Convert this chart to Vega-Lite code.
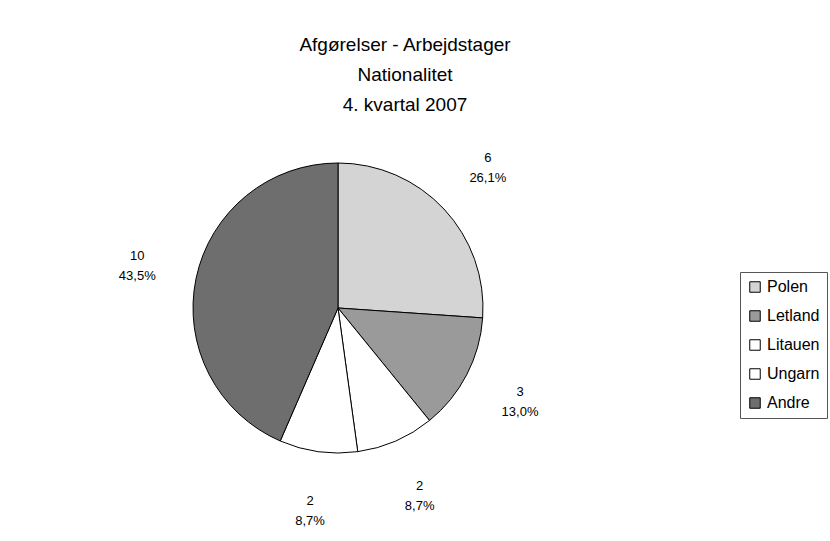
{
  "$schema": "https://vega.github.io/schema/vega-lite/v6.json",
  "autosize": "none",
  "padding": {"left": 138, "top": 108, "right": 292, "bottom": 33},
  "width": 400,
  "height": 400,
  "background": "white",
  "config": {"view": {"stroke": null}, "font": "Liberation Sans"},
  "title": {
    "text": ["Afgørelser - Arbejdstager", "Nationalitet", "4. kvartal 2007"],
    "fontSize": 19,
    "fontWeight": "normal",
    "font": "Liberation Sans",
    "color": "black",
    "lineHeight": 30,
    "anchor": "middle",
    "frame": "group",
    "dx": 67,
    "dy": 7,
    "offset": 0
  },
  "data": {
    "values": [
      {"land": "Polen", "antal": 6, "pct": "26,1%", "rk": 1},
      {"land": "Letland", "antal": 3, "pct": "13,0%", "rk": 2},
      {"land": "Litauen", "antal": 2, "pct": "8,7%", "rk": 3},
      {"land": "Ungarn", "antal": 2, "pct": "8,7%", "rk": 4},
      {"land": "Andre", "antal": 10, "pct": "43,5%", "rk": 5}
    ]
  },
  "encoding": {
    "theta": {"field": "antal", "type": "quantitative", "stack": true},
    "order": {"field": "rk", "type": "quantitative"}
  },
  "layer": [
    {
      "mark": {"type": "arc", "outerRadius": 145, "stroke": "black", "strokeWidth": 1},
      "encoding": {
        "color": {
          "field": "land",
          "type": "nominal",
          "sort": ["Polen", "Letland", "Litauen", "Ungarn", "Andre"],
          "scale": {
            "domain": ["Polen", "Letland", "Litauen", "Ungarn", "Andre"],
            "range": ["#d4d4d4", "#9a9a9a", "#ffffff", "#ffffff", "#6e6e6e"]
          },
          "legend": {
            "title": null,
            "orient": "none",
            "legendX": 602,
            "legendY": 164,
            "symbolType": "square",
            "symbolSize": 110,
            "symbolStrokeColor": "black",
            "symbolStrokeWidth": 1,
            "labelFontSize": 16,
            "labelFont": "Liberation Sans",
            "labelColor": "black",
            "rowPadding": 13,
            "padding": 7,
            "strokeColor": "#555",
            "fillColor": "white"
          }
        }
      }
    },
    {
      "mark": {"type": "text", "radius": 205, "dy": -10, "fontSize": 13, "font": "Liberation Sans", "color": "black"},
      "encoding": {"text": {"field": "antal", "type": "quantitative"}}
    },
    {
      "mark": {"type": "text", "radius": 205, "dy": 10, "fontSize": 13, "font": "Liberation Sans", "color": "black"},
      "encoding": {"text": {"field": "pct", "type": "nominal"}}
    }
  ]
}
